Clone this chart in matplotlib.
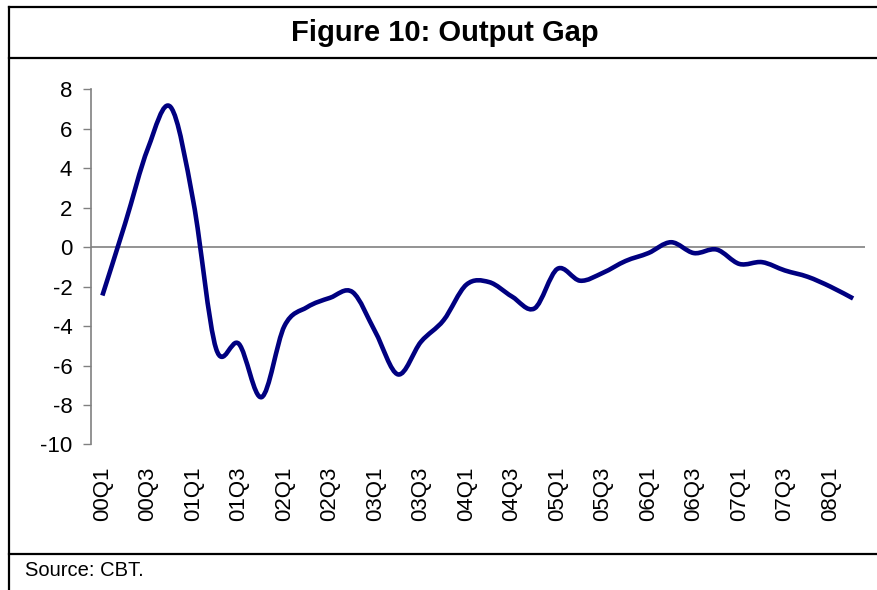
import matplotlib
matplotlib.use("Agg")
import matplotlib.pyplot as plt
from matplotlib.path import Path
from matplotlib.patches import PathPatch
from matplotlib.lines import Line2D
import numpy as np

plt.rcParams['font.family'] = ['Liberation Sans', 'DejaVu Sans']

quarters = ["00Q1", "00Q2", "00Q3", "00Q4", "01Q1", "01Q2", "01Q3", "01Q4",
            "02Q1", "02Q2", "02Q3", "02Q4", "03Q1", "03Q2", "03Q3", "03Q4",
            "04Q1", "04Q2", "04Q3", "04Q4", "05Q1", "05Q2", "05Q3", "05Q4",
            "06Q1", "06Q2", "06Q3", "06Q4", "07Q1", "07Q2", "07Q3", "07Q4",
            "08Q1", "08Q2"]
output_gap = [-2.45, 1.2, 5.0, 7.1, 2.3, -5.15, -4.9, -7.6,
              -4.0, -3.04, -2.57, -2.28, -4.3, -6.45, -4.8, -3.7,
              -1.9, -1.77, -2.5, -3.1, -1.1, -1.7, -1.3, -0.7,
              -0.3, 0.25, -0.3, -0.12, -0.85, -0.76, -1.18, -1.5,
              -2.0, -2.6]
y_ticks = [8, 6, 4, 2, 0, -2, -4, -6, -8, -10]

W, H = 877, 590
fig = plt.figure(figsize=(W / 100, H / 100), dpi=100)
ax = fig.add_axes([91 / W, 1 - 444.5 / H, (864.5 - 91) / W, (444.5 - 89.3) / H])

x = np.arange(len(output_gap), dtype=float)
y = np.array(output_gap, dtype=float)

# Smoothed line (Excel-style Bezier smoothing through the data points)
verts = [(x[0], y[0])]
codes = [Path.MOVETO]
n = len(x)
for i in range(n - 1):
    p0 = np.array([x[max(i - 1, 0)], y[max(i - 1, 0)]])
    p1 = np.array([x[i], y[i]])
    p2 = np.array([x[i + 1], y[i + 1]])
    p3 = np.array([x[min(i + 2, n - 1)], y[min(i + 2, n - 1)]])
    c1 = p1 + (p2 - p0) / 6.0
    c2 = p2 - (p3 - p1) / 6.0
    verts += [tuple(c1), tuple(c2), tuple(p2)]
    codes += [Path.CURVE4, Path.CURVE4, Path.CURVE4]
path = Path(verts, codes)
ax.add_patch(PathPatch(path, facecolor='none', edgecolor='#000080', lw=3.3,
                       capstyle='butt', joinstyle='round', zorder=3))

ax.axhline(0, color='#808080', lw=1.2, zorder=2)

ax.set_xlim(-0.5, len(output_gap) - 0.5)
ax.set_ylim(-10, 8)
ax.set_yticks(y_ticks)
ax.set_yticklabels([str(v) for v in y_ticks])
ax.set_xticks(x[::2])
ax.set_xticklabels(quarters[::2], rotation=90, va='top', ha='center')

for s in ['top', 'right', 'bottom']:
    ax.spines[s].set_visible(False)
ax.spines['left'].set_color('#808080')
ax.spines['left'].set_linewidth(1.2)
ax.tick_params(axis='y', direction='out', length=5.5, width=1.0, color='#808080',
               labelsize=16, pad=8)
ax.tick_params(axis='x', length=0, labelsize=16, pad=16)

# Frame lines
lw = 1.6
def fl(x0, y0, x1, y1):
    fig.add_artist(Line2D([x0 / W, x1 / W], [1 - y0 / H, 1 - y1 / H],
                          color='black', lw=lw, transform=fig.transFigure))
fl(9, 6.7, W, 6.7)
fl(9, 6.7, 9, H)
fl(9, 57.7, W, 57.7)
fl(9, 554, W, 554)

fig.text(445 / W, 1 - 33 / H, "Figure 10: Output Gap", ha='center', va='center',
         fontsize=21, fontweight='bold')
fig.text(25 / W, 1 - 571 / H, "Source: CBT.", ha='left', va='center', fontsize=14.5)

fig.savefig("out.png", dpi=100)
